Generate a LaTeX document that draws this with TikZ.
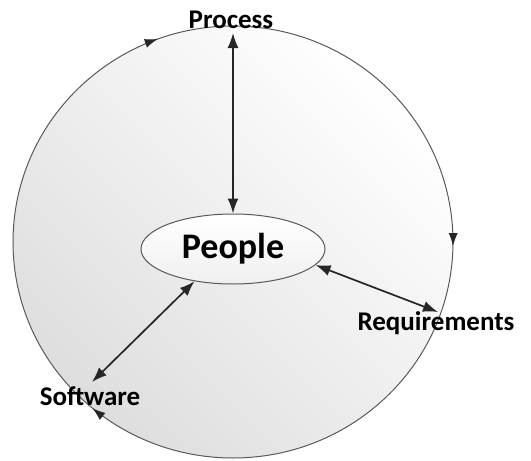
\documentclass[tikz,border=0pt]{standalone}
\usepackage{fontspec}
\setmainfont{Carlito}
\usetikzlibrary{arrows.meta,shapes.geometric,decorations.markings}
\begin{document}
\begin{tikzpicture}[x=1pt,y=-1pt,
  link/.style={{Latex[length=15pt,width=11pt]}-{Latex[length=15pt,width=11pt]}, line width=1.7pt, draw=black!85},
  lbl/.style={font=\bfseries\fontsize{27}{29}\selectfont, inner sep=0pt},
  flow/.style={draw=black!65, line width=1pt, postaction={decorate},
    decoration={markings,
      mark=at position 0.194 with {\arrow[black!85]{Latex[length=13pt,width=9pt]}},
      mark=at position 0.503 with {\arrow[black!85]{Latex[length=13pt,width=9pt]}},
      mark=at position 0.861 with {\arrow[black!85]{Latex[length=13pt,width=9pt]}}}}]
\useasboundingbox (0,0) rectangle (531,461);
% outer cycle, filled with a soft gradient (darker towards the lower left)
\begin{scope}[yscale=-1]
  \shade[top color=black!13, bottom color=white, shading angle=135]
    (233,-242) ellipse [x radius=220, y radius=216];
\end{scope}
% clockwise cycle with direction marks
\draw[flow] (13,242) arc[start angle=180, end angle=-180, x radius=220, y radius=-216];
% centre node
\node[ellipse, draw=black!65, line width=1pt, top color=white, bottom color=black!6,
  minimum width=184pt, minimum height=70pt,
  font=\bfseries\fontsize{36}{38}\selectfont, inner sep=0pt] (people) at (233,249) {People};
% outer labels
\node[lbl] (process) at (231,20) {Process};
\node[lbl] (req) at (436,323) {Requirements};
\node[lbl] (soft) at (90,396) {Software};
% links to the centre
\coordinate (pt) at (233,33);
\coordinate (rt) at (438,312);
\coordinate (st) at (92,382);
\draw[link] (pt) -- (people.north);
\draw[link] (people.-11) -- (rt);
\draw[link] (people.-140) -- (st);
\end{tikzpicture}
\end{document}
